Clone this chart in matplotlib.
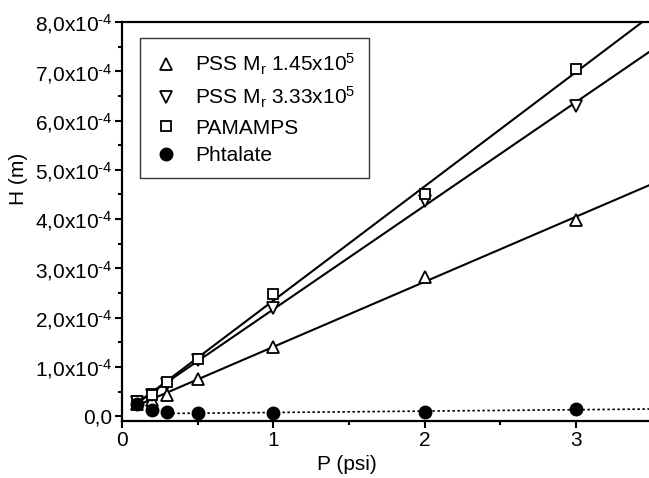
import numpy as np
import matplotlib
matplotlib.use("Agg")
import matplotlib.pyplot as plt
from matplotlib.ticker import FixedLocator, MultipleLocator

plt.rcParams["font.family"] = ["Liberation Sans", "DejaVu Sans"]
plt.rcParams["mathtext.fontset"] = "custom"
plt.rcParams["mathtext.rm"] = "Liberation Sans"
plt.rcParams["mathtext.it"] = "Liberation Sans"
plt.rcParams["mathtext.default"] = "regular"

# Pressure (psi)
pressure = [0.1, 0.2, 0.3, 0.5, 1, 2, 3]

# Height H (units of 1e-4 m)
pss_145 = [0.25, 0.33, 0.43, 0.75, 1.41, 2.82, 3.99]
pss_333 = [0.29, 0.42, 0.66, 1.15, 2.20, 4.37, 6.30]
pamamps = [0.31, 0.44, 0.70, 1.17, 2.47, 4.51, 7.05]
phtalate = [0.25, 0.12, 0.09, 0.07, 0.07, 0.09, 0.14]

labels = ["PSS M$_r$ 1.45x10$^5$", "PSS M$_r$ 3.33x10$^5$", "PAMAMPS", "Phtalate"]

x = np.array(pressure)
scale = 1e-4
FS = 15

fig = plt.figure(figsize=(6.49, 4.78), dpi=100)
ax = fig.add_axes([0.188, 0.119, 0.816, 0.835])

xfit = np.linspace(0.1, 3.5, 50)
for vals in (pss_145, pss_333, pamamps):
    k, b = np.polyfit(x, np.array(vals), 1)
    ax.plot(xfit, (k * xfit + b) * scale, color="black", lw=1.5)

# dotted trend for phtalate
mask = x >= 0.5
k, b = np.polyfit(x[mask], np.array(phtalate)[mask], 1)
xd = np.linspace(0.3, 3.5, 50)
ax.plot(xd, (k * xd + b) * scale, color="black", lw=1.2, ls=(0, (1.5, 1.5)))

ax.plot(x, np.array(pss_145) * scale, ls="none", marker="^", ms=8.5, mfc="white",
        mec="black", mew=1.3, label=labels[0])
ax.plot(x, np.array(pss_333) * scale, ls="none", marker="v", ms=8.5, mfc="white",
        mec="black", mew=1.3, label=labels[1])
ax.plot(x, np.array(pamamps) * scale, ls="none", marker="s", ms=7.5, mfc="white",
        mec="black", mew=1.3, label=labels[2])
ax.plot(x, np.array(phtalate) * scale, ls="none", marker="o", ms=9, mfc="black",
        mec="black", label=labels[3])

ax.set_xlim(0, 3.5)
ax.set_ylim(-0.1e-4, 8.0e-4)

ax.xaxis.set_major_locator(FixedLocator([0, 1, 2, 3]))
ax.xaxis.set_minor_locator(MultipleLocator(0.5))
ax.set_xticklabels(["0", "1", "2", "3"])
yt = np.arange(0, 9) * 1e-4
ax.yaxis.set_major_locator(FixedLocator(yt))
ax.yaxis.set_minor_locator(MultipleLocator(0.5e-4))
ax.set_yticklabels(["0,0"] + [f"{i},0x10$^{{\\text{{-4}}}}$" for i in range(1, 9)])

ax.tick_params(which="major", direction="out", length=5, width=1.5, labelsize=FS, pad=2)
ax.tick_params(which="minor", direction="out", length=3, width=1.5)
ax.spines["right"].set_visible(False)
for s in ("left", "bottom", "top"):
    ax.spines[s].set_linewidth(1.6)

ax.set_xlabel("P (psi)", fontsize=FS)
ax.set_ylabel("H (m)", fontsize=FS)
ax.xaxis.set_label_coords(0.425, -0.085)
ax.yaxis.set_label_coords(-0.178, 0.607)

leg = ax.legend(loc="upper left", bbox_to_anchor=(0.034, 0.96), borderaxespad=0,
                fontsize=FS, frameon=True, fancybox=False, edgecolor="black",
                labelspacing=0.4, handletextpad=0.8, borderpad=0.65, handlelength=1.2)
leg.get_frame().set_linewidth(1.0)

fig.savefig("out.png", dpi=100)
